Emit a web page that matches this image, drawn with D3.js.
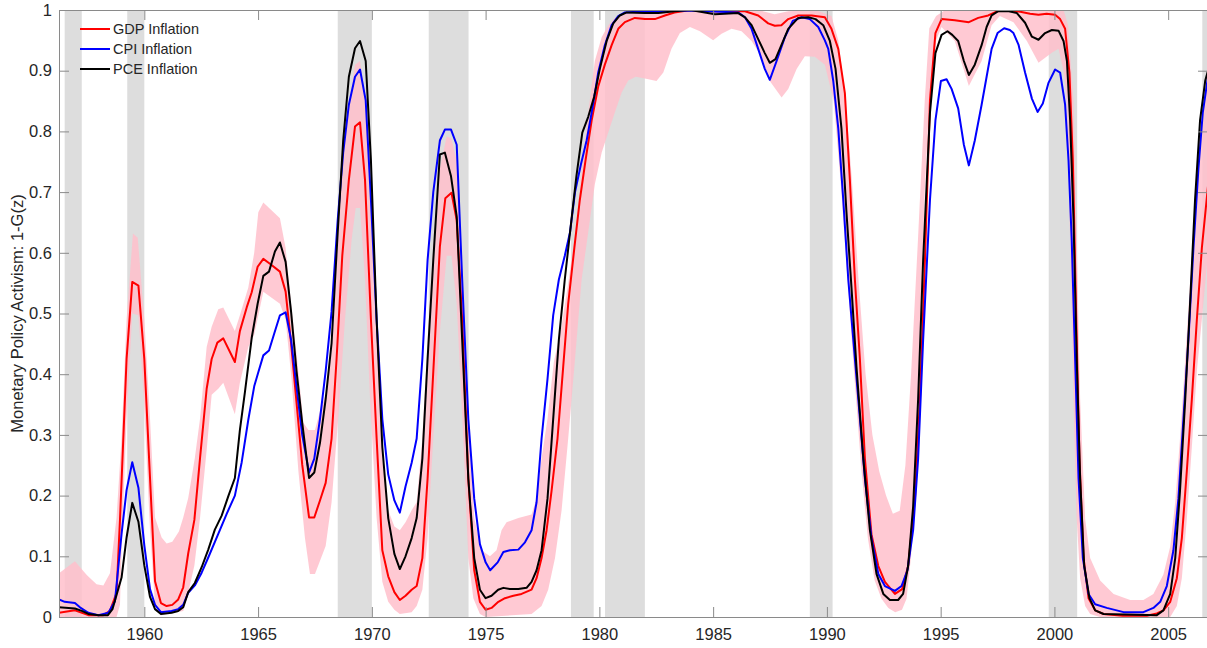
<!DOCTYPE html>
<html><head><meta charset="utf-8">
<script src="https://cdn.jsdelivr.net/npm/d3@7"></script>
<style>
html,body{margin:0;padding:0;background:#fff;}
svg{display:block;font-family:"Liberation Sans",Arial,Helvetica,sans-serif;}
</style></head>
<body><svg id="chart" width="1207" height="648"></svg>
<script>
// ---------- data ----------
const xTicks = [1960,1965,1970,1975,1980,1985,1990,1995,2000,2005];
const yTicks = [0,0.1,0.2,0.3,0.4,0.5,0.6,0.7,0.8,0.9,1];
const yTickLabels = ["0","0.1","0.2","0.3","0.4","0.5","0.6","0.7","0.8","0.9","1"];
const seriesNames = ["GDP Inflation","CPI Inflation","PCE Inflation"];
const seriesColors = ["#ff0000","#0000ff","#000000"];

const recessions = [[1956.5,1957.25],[1959.25,1960.0],[1968.5,1970.0],[1972.5,1974.25],
  [1978.75,1979.75],[1980.25,1982.0],[1989.25,1990.25],[1999.75,2001.0],[2006.5,2006.75]];

const gdp = [[1956.25,0.007],[1956.95,0.011],[1957.54,0.003],[1958.2,0.003],[1958.49,0.01],[1958.78,0.04],
[1958.93,0.16],[1959.22,0.425],[1959.47,0.552],[1959.74,0.546],[1960.0,0.425],[1960.25,0.229],[1960.47,0.059],
[1960.73,0.023],[1960.98,0.018],[1961.23,0.02],[1961.49,0.029],[1961.71,0.049],[1961.93,0.105],[1962.2,0.16],
[1962.45,0.262],[1962.74,0.376],[1962.96,0.425],[1963.21,0.452],[1963.47,0.459],[1963.98,0.42],[1964.2,0.471],
[1964.5,0.51],[1964.72,0.535],[1964.98,0.577],[1965.23,0.59],[1965.52,0.582],[1965.96,0.569],[1966.21,0.536],
[1966.45,0.451],[1966.69,0.353],[1966.94,0.251],[1967.24,0.164],[1967.47,0.164],[1967.72,0.192],[1967.97,0.221],
[1968.23,0.294],[1968.45,0.425],[1968.7,0.595],[1968.99,0.72],[1969.26,0.808],[1969.48,0.815],[1969.7,0.72],
[1969.96,0.49],[1970.21,0.294],[1970.46,0.11],[1970.72,0.067],[1970.99,0.041],[1971.23,0.028],[1971.48,0.035],
[1971.75,0.045],[1971.97,0.051],[1972.22,0.097],[1972.45,0.228],[1972.73,0.425],[1972.99,0.61],[1973.23,0.69],
[1973.5,0.699],[1973.73,0.654],[1973.97,0.49],[1974.24,0.228],[1974.5,0.077],[1974.75,0.025],[1975.0,0.012],
[1975.26,0.015],[1975.56,0.025],[1975.85,0.031],[1976.22,0.035],[1976.58,0.038],[1977.02,0.045],[1977.24,0.064],
[1977.46,0.097],[1977.68,0.143],[1977.9,0.208],[1978.16,0.294],[1978.41,0.412],[1978.63,0.516],[1978.9,0.608],
[1979.14,0.687],[1979.39,0.752],[1979.66,0.818],[1979.95,0.874],[1980.24,0.91],[1980.54,0.942],[1980.83,0.969],
[1981.12,0.98],[1981.56,0.987],[1982.0,0.985],[1982.44,0.985],[1982.88,0.991],[1983.3,0.996],[1984.0,1.0],
[1985.0,0.998],[1986.4,0.998],[1986.98,0.991],[1987.42,0.978],[1987.71,0.974],[1988.0,0.975],[1988.3,0.985],
[1988.74,0.991],[1989.33,0.991],[1989.91,0.988],[1990.2,0.969],[1990.5,0.936],[1990.79,0.863],[1991.01,0.72],
[1991.23,0.556],[1991.45,0.425],[1991.67,0.261],[1991.96,0.136],[1992.26,0.084],[1992.55,0.058],[1992.99,0.038],
[1993.31,0.046],[1993.57,0.084],[1993.87,0.195],[1994.09,0.359],[1994.31,0.588],[1994.53,0.851],[1994.77,0.962],
[1995.04,0.985],[1995.62,0.983],[1996.24,0.98],[1996.65,0.987],[1997.09,0.991],[1997.5,0.998],[1998.0,1.0],
[1998.5,0.997],[1998.93,0.994],[1999.3,0.992],[1999.66,0.994],[2000.03,0.992],[2000.25,0.985],[2000.47,0.969],
[2000.66,0.897],[2000.81,0.752],[2000.96,0.49],[2001.1,0.261],[2001.28,0.097],[2001.5,0.031],[2001.79,0.011],
[2002.16,0.005],[2003.0,0.002],[2004.06,0.002],[2004.5,0.006],[2004.79,0.011],[2005.09,0.025],[2005.38,0.064],
[2005.6,0.13],[2005.82,0.241],[2006.04,0.359],[2006.26,0.49],[2006.48,0.608],[2006.75,0.71]];

const cpi = [[1956.25,0.029],[1956.5,0.025],[1956.95,0.023],[1957.17,0.016],[1957.54,0.007],[1957.98,0.003],
[1958.42,0.007],[1958.71,0.026],[1959.0,0.137],[1959.22,0.209],[1959.47,0.255],[1959.74,0.213],[1960.0,0.118],
[1960.25,0.046],[1960.47,0.02],[1960.73,0.008],[1961.2,0.01],[1961.49,0.013],[1961.71,0.02],[1961.93,0.04],
[1962.22,0.052],[1962.52,0.073],[1962.81,0.098],[1963.25,0.137],[1963.62,0.17],[1963.98,0.2],[1964.28,0.255],
[1964.57,0.325],[1964.83,0.38],[1965.0,0.402],[1965.23,0.431],[1965.48,0.439],[1965.71,0.467],[1965.96,0.497],
[1966.21,0.502],[1966.45,0.457],[1966.69,0.379],[1966.94,0.3],[1967.24,0.238],[1967.47,0.261],[1967.72,0.326],
[1967.97,0.405],[1968.23,0.503],[1968.5,0.654],[1968.74,0.765],[1968.99,0.844],[1969.26,0.89],[1969.48,0.902],
[1969.73,0.851],[1969.96,0.687],[1970.21,0.49],[1970.46,0.326],[1970.72,0.235],[1970.99,0.192],[1971.23,0.172],
[1971.48,0.215],[1971.75,0.254],[1971.97,0.294],[1972.22,0.425],[1972.45,0.588],[1972.7,0.7],[1972.99,0.785],
[1973.21,0.803],[1973.48,0.803],[1973.73,0.778],[1973.97,0.556],[1974.24,0.326],[1974.5,0.195],[1974.75,0.12],
[1975.0,0.09],[1975.2,0.077],[1975.53,0.09],[1975.78,0.107],[1976.07,0.11],[1976.44,0.111],[1976.73,0.123],
[1977.02,0.143],[1977.24,0.189],[1977.46,0.294],[1977.72,0.392],[1977.97,0.497],[1978.22,0.556],[1978.48,0.595],
[1978.71,0.634],[1978.93,0.7],[1979.19,0.746],[1979.44,0.785],[1979.69,0.837],[1979.95,0.897],[1980.24,0.942],
[1980.54,0.975],[1980.83,0.99],[1981.12,0.996],[1982.0,0.998],[1984.0,0.999],[1986.1,0.996],[1986.4,0.988],
[1986.69,0.969],[1986.98,0.936],[1987.27,0.903],[1987.49,0.885],[1987.79,0.916],[1988.15,0.955],[1988.5,0.982],
[1988.89,0.988],[1989.25,0.985],[1989.62,0.972],[1989.91,0.95],[1990.06,0.936],[1990.28,0.883],[1990.5,0.805],
[1990.72,0.687],[1990.94,0.556],[1991.16,0.457],[1991.38,0.359],[1991.67,0.228],[1991.96,0.13],[1992.26,0.071],
[1992.55,0.051],[1992.99,0.043],[1993.28,0.051],[1993.54,0.077],[1993.79,0.143],[1994.01,0.261],[1994.23,0.457],
[1994.53,0.687],[1994.77,0.818],[1995.01,0.883],[1995.26,0.886],[1995.48,0.87],[1995.77,0.838],[1996.02,0.778],
[1996.24,0.744],[1996.5,0.785],[1996.8,0.844],[1997.02,0.89],[1997.24,0.936],[1997.5,0.962],[1997.79,0.97],
[1998.04,0.967],[1998.2,0.962],[1998.42,0.943],[1998.71,0.897],[1999.01,0.854],[1999.26,0.832],[1999.49,0.846],
[1999.74,0.88],[2000.03,0.902],[2000.25,0.897],[2000.47,0.844],[2000.62,0.752],[2000.76,0.621],[2000.91,0.425],
[2001.06,0.228],[2001.25,0.097],[2001.5,0.038],[2001.79,0.021],[2002.3,0.015],[2003.04,0.008],[2003.91,0.008],
[2004.35,0.015],[2004.65,0.025],[2004.94,0.051],[2005.23,0.11],[2005.45,0.195],[2005.67,0.326],[2005.89,0.457],
[2006.11,0.608],[2006.33,0.739],[2006.52,0.831],[2006.75,0.89]];

const pce = [[1956.25,0.016],[1956.95,0.014],[1957.25,0.01],[1957.54,0.005],[1958.0,0.003],[1958.4,0.003],
[1958.6,0.013],[1959.0,0.065],[1959.22,0.131],[1959.47,0.188],[1959.74,0.157],[1960.0,0.085],[1960.25,0.033],
[1960.47,0.013],[1960.73,0.005],[1961.2,0.007],[1961.49,0.01],[1961.71,0.016],[1961.93,0.041],[1962.22,0.056],
[1962.52,0.082],[1962.81,0.111],[1963.1,0.144],[1963.4,0.167],[1963.7,0.2],[1963.98,0.229],[1964.2,0.308],
[1964.42,0.37],[1964.72,0.46],[1964.98,0.516],[1965.23,0.562],[1965.48,0.569],[1965.74,0.602],[1965.96,0.617],
[1966.21,0.585],[1966.45,0.503],[1966.69,0.405],[1966.94,0.32],[1967.24,0.229],[1967.47,0.238],[1967.72,0.287],
[1967.97,0.359],[1968.23,0.451],[1968.5,0.634],[1968.74,0.785],[1968.99,0.89],[1969.26,0.937],[1969.48,0.949],
[1969.73,0.916],[1969.96,0.752],[1970.21,0.49],[1970.46,0.28],[1970.72,0.163],[1970.99,0.104],[1971.23,0.079],
[1971.48,0.1],[1971.75,0.13],[1971.97,0.163],[1972.22,0.261],[1972.45,0.425],[1972.7,0.588],[1972.99,0.762],
[1973.21,0.765],[1973.48,0.726],[1973.73,0.66],[1973.97,0.457],[1974.24,0.228],[1974.5,0.097],[1974.75,0.045],
[1975.0,0.031],[1975.26,0.035],[1975.55,0.045],[1975.78,0.048],[1976.07,0.046],[1976.44,0.046],[1976.8,0.048],
[1977.02,0.058],[1977.24,0.077],[1977.46,0.11],[1977.72,0.195],[1977.97,0.326],[1978.22,0.457],[1978.48,0.556],
[1978.75,0.647],[1978.99,0.726],[1979.25,0.798],[1979.51,0.824],[1979.77,0.857],[1980.02,0.903],[1980.32,0.949],
[1980.61,0.978],[1980.9,0.991],[1981.2,0.996],[1982.0,0.995],[1982.6,0.995],[1983.3,0.998],[1984.0,1.0],
[1985.08,0.993],[1986.1,0.995],[1986.4,0.988],[1986.69,0.975],[1986.98,0.952],[1987.27,0.929],[1987.49,0.913],
[1987.74,0.919],[1988.0,0.942],[1988.3,0.969],[1988.74,0.987],[1989.18,0.988],[1989.5,0.985],[1989.84,0.975],
[1990.13,0.949],[1990.38,0.903],[1990.64,0.805],[1990.86,0.667],[1991.08,0.543],[1991.3,0.412],[1991.6,0.261],
[1991.89,0.143],[1992.18,0.071],[1992.48,0.038],[1992.77,0.028],[1993.13,0.028],[1993.35,0.038],[1993.57,0.084],
[1993.79,0.182],[1994.01,0.359],[1994.23,0.588],[1994.53,0.831],[1994.77,0.929],[1995.04,0.959],[1995.3,0.965],
[1995.51,0.959],[1995.77,0.949],[1996.02,0.916],[1996.24,0.893],[1996.5,0.91],[1996.8,0.942],[1997.02,0.972],
[1997.24,0.991],[1997.53,0.998],[1998.0,0.998],[1998.35,0.995],[1998.71,0.979],[1999.01,0.956],[1999.3,0.951],
[1999.59,0.962],[1999.89,0.967],[2000.18,0.966],[2000.4,0.949],[2000.55,0.916],[2000.69,0.818],[2000.84,0.654],
[2000.98,0.425],[2001.13,0.228],[2001.31,0.084],[2001.54,0.031],[2001.79,0.011],[2002.16,0.005],[2004.5,0.003],
[2004.79,0.011],[2005.09,0.038],[2005.31,0.097],[2005.52,0.208],[2005.75,0.359],[2005.97,0.523],[2006.18,0.687],
[2006.4,0.818],[2006.63,0.884],[2006.75,0.9]];

const bandHi = [[1956.25,0.072],[1956.95,0.092],[1957.47,0.069],[1957.9,0.054],[1958.2,0.052],[1958.49,0.072],
[1958.78,0.164],[1959.0,0.295],[1959.22,0.49],[1959.5,0.632],[1959.71,0.625],[1960.0,0.49],[1960.25,0.327],
[1960.47,0.164],[1960.76,0.131],[1960.98,0.121],[1961.23,0.124],[1961.52,0.141],[1961.71,0.164],[1961.93,0.196],
[1962.22,0.262],[1962.45,0.327],[1962.74,0.445],[1962.96,0.478],[1963.25,0.507],[1963.47,0.51],[1963.98,0.471],
[1964.2,0.497],[1964.57,0.543],[1964.83,0.6],[1965.01,0.667],[1965.23,0.683],[1965.96,0.657],[1966.21,0.608],
[1966.45,0.516],[1966.77,0.405],[1966.99,0.32],[1967.21,0.308],[1967.5,0.308],[1967.72,0.339],[1967.97,0.366],
[1968.23,0.438],[1968.45,0.588],[1968.7,0.739],[1968.99,0.844],[1969.26,0.91],[1969.48,0.916],[1969.73,0.851],
[1969.96,0.654],[1970.21,0.48],[1970.46,0.261],[1970.72,0.176],[1970.99,0.149],[1971.23,0.143],[1971.48,0.156],
[1971.75,0.176],[1971.97,0.189],[1972.22,0.294],[1972.45,0.457],[1972.7,0.608],[1972.99,0.739],[1973.29,0.792],
[1973.5,0.788],[1973.73,0.752],[1973.97,0.556],[1974.24,0.326],[1974.5,0.163],[1974.82,0.11],[1975.19,0.1],
[1975.48,0.11],[1975.7,0.143],[1975.92,0.156],[1976.44,0.163],[1977.02,0.169],[1977.24,0.195],[1977.46,0.261],
[1977.72,0.326],[1978.0,0.42],[1978.34,0.48],[1978.63,0.55],[1978.93,0.63],[1979.22,0.733],[1979.51,0.831],
[1979.8,0.916],[1980.1,0.955],[1980.39,0.975],[1980.68,0.987],[1981.1,0.995],[1982.0,0.997],[1983.0,1.0],
[1987.0,1.0],[1987.7,0.993],[1988.3,0.998],[1989.5,1.0],[1990.2,0.99],[1990.5,0.95],[1990.8,0.86],[1991.1,0.72],
[1991.4,0.55],[1991.7,0.4],[1992.0,0.3],[1992.3,0.24],[1992.6,0.2],[1992.9,0.17],[1993.2,0.175],[1993.45,0.25],
[1993.7,0.4],[1994.0,0.62],[1994.3,0.85],[1994.5,0.97],[1994.8,0.99],[1995.2,1.0],[2000.4,1.0],[2000.6,0.975],
[2000.84,0.849],[2000.98,0.621],[2001.13,0.359],[2001.35,0.162],[2001.57,0.097],[2002.01,0.06],[2002.6,0.038],
[2003.33,0.028],[2003.91,0.028],[2004.35,0.038],[2004.79,0.07],[2005.09,0.116],[2005.31,0.189],[2005.52,0.294],
[2005.75,0.425],[2005.97,0.556],[2006.18,0.687],[2006.4,0.798],[2006.75,0.9]];

const bandLo = [[1956.25,0.0],[1958.78,0.0],[1958.93,0.02],[1959.0,0.111],[1959.22,0.327],[1959.47,0.5],
[1959.74,0.497],[1959.98,0.36],[1960.25,0.144],[1960.47,0.02],[1960.73,0.003],[1961.71,0.01],[1961.93,0.04],
[1962.2,0.085],[1962.45,0.164],[1962.74,0.275],[1962.96,0.366],[1963.25,0.376],[1963.47,0.386],[1963.98,0.334],
[1964.2,0.386],[1964.57,0.445],[1964.83,0.465],[1965.23,0.536],[1965.96,0.516],[1966.21,0.49],[1966.47,0.392],
[1966.77,0.241],[1967.06,0.13],[1967.28,0.071],[1967.5,0.071],[1967.97,0.117],[1968.23,0.189],[1968.52,0.326],
[1968.82,0.49],[1969.11,0.621],[1969.29,0.674],[1969.48,0.674],[1969.7,0.556],[1969.92,0.359],[1970.21,0.163],
[1970.46,0.058],[1970.72,0.025],[1970.99,0.012],[1971.23,0.005],[1971.75,0.008],[1971.97,0.018],[1972.22,0.045],
[1972.45,0.13],[1972.7,0.294],[1972.99,0.47],[1973.29,0.595],[1973.5,0.595],[1973.73,0.516],[1974.02,0.294],
[1974.24,0.097],[1974.46,0.031],[1974.75,0.005],[1975.0,0.0],[1977.02,0.005],[1977.46,0.018],[1977.75,0.045],
[1978.05,0.097],[1978.34,0.176],[1978.63,0.294],[1978.93,0.425],[1979.22,0.556],[1979.51,0.634],[1979.8,0.713],
[1980.1,0.765],[1980.39,0.798],[1980.68,0.831],[1980.98,0.864],[1981.27,0.884],[1981.6,0.89],[1982.0,0.887],
[1982.51,0.883],[1982.81,0.897],[1983.17,0.936],[1983.54,0.962],[1983.98,0.972],[1984.42,0.965],[1985.0,0.95],
[1985.37,0.961],[1985.81,0.969],[1986.25,0.965],[1986.69,0.949],[1987.13,0.923],[1987.49,0.883],[1988.01,0.856],
[1988.3,0.87],[1988.67,0.903],[1989.03,0.924],[1989.47,0.923],[1989.91,0.91],[1990.3,0.85],[1990.6,0.72],
[1990.9,0.56],[1991.2,0.4],[1991.5,0.25],[1991.8,0.13],[1992.1,0.06],[1992.4,0.03],[1992.7,0.015],[1993.0,0.008],
[1993.3,0.012],[1993.5,0.03],[1993.7,0.1],[1993.9,0.25],[1994.1,0.45],[1994.3,0.7],[1994.5,0.85],[1994.8,0.95],
[1995.04,0.972],[1995.62,0.949],[1996.24,0.875],[1996.8,0.916],[1997.24,0.975],[1997.6,0.99],[1998.2,0.98],
[1998.79,0.949],[1999.3,0.913],[1999.9,0.93],[2000.18,0.936],[2000.4,0.9],[2000.55,0.851],[2000.69,0.621],
[2000.84,0.359],[2000.98,0.162],[2001.13,0.064],[2001.35,0.018],[2001.57,0.005],[2002.0,0.0],[2005.09,0.0],
[2005.38,0.018],[2005.6,0.064],[2005.82,0.162],[2006.04,0.28],[2006.26,0.405],[2006.48,0.49],[2006.75,0.6]];

// ---------- layout ----------
const svg = d3.select("#chart");
const L = 59, R = 1208, T = 10, B = 617;
const x = d3.scaleLinear().domain([1956.25, 2006.75]).range([L, R]);
const y = d3.scaleLinear().domain([0, 1]).range([B, T]);
const axisColor = "#8a8a8a", textColor = "#262626";

svg.append("defs").append("clipPath").attr("id","clip")
  .append("rect").attr("x",L).attr("y",T).attr("width",R-L).attr("height",B-T);
const plot = svg.append("g").attr("clip-path","url(#clip)");

// recession shading
plot.selectAll("rect.rec").data(recessions).enter().append("rect")
  .attr("class","rec")
  .attr("x", d => x(d[0])).attr("width", d => x(d[1]) - x(d[0]))
  .attr("y", T).attr("height", B - T)
  .attr("fill", "#dddddd");

// confidence band
const bandPts = bandHi.concat(bandLo.slice().reverse());
plot.append("path")
  .attr("d", d3.line().x(d => x(d[0])).y(d => y(d[1]))(bandPts) + "Z")
  .attr("fill", "#ffc0cb").attr("fill-opacity", 0.85).attr("stroke", "none");

// lines
const line = d3.line().x(d => x(d[0])).y(d => y(d[1]));
[gdp, cpi, pce].forEach((s, i) => {
  plot.append("path").attr("d", line(s))
    .attr("fill","none").attr("stroke", seriesColors[i])
    .attr("stroke-width", 2).attr("stroke-linejoin","round");
});

// axes
const fmtY = d => yTickLabels[yTicks.indexOf(d)];
const gB = svg.append("g").attr("transform",`translate(0,${B})`)
  .call(d3.axisBottom(x).tickValues(xTicks).tickFormat(d3.format("d")).tickSizeInner(-10).tickSizeOuter(0).tickPadding(8));
const gT = svg.append("g").attr("transform",`translate(0,${T})`)
  .call(d3.axisTop(x).tickValues(xTicks).tickFormat("").tickSizeInner(-10).tickSizeOuter(0));
const gL = svg.append("g").attr("transform",`translate(${L},0)`)
  .call(d3.axisLeft(y).tickValues(yTicks).tickFormat(fmtY).tickSizeInner(-10).tickSizeOuter(0).tickPadding(7));
const gR = svg.append("g").attr("transform",`translate(${R},0)`)
  .call(d3.axisRight(y).tickValues(yTicks).tickFormat("").tickSizeInner(-10).tickSizeOuter(0));
[gB,gT,gL,gR].forEach(g => {
  g.select(".domain").attr("stroke", axisColor).attr("stroke-width",1);
  g.selectAll(".tick line").attr("stroke", axisColor);
  g.selectAll(".tick text").attr("fill", textColor).style("font-size","16.5px")
    .style("font-family",'"Liberation Sans",Arial,sans-serif');
});
gB.selectAll(".tick text").attr("dy","0.9em");

// y label
svg.append("text")
  .attr("transform", `translate(23,${(T+B)/2}) rotate(-90)`)
  .attr("text-anchor","middle")
  .attr("fill", textColor)
  .style("font-size","16.5px")
  .text("Monetary Policy Activism: 1-G(z)");

// legend
const lg = svg.append("g");
seriesNames.forEach((n, i) => {
  const yy = 29 + i * 20;
  lg.append("line").attr("x1",80).attr("x2",110).attr("y1",yy).attr("y2",yy)
    .attr("stroke", seriesColors[i]).attr("stroke-width",2);
  lg.append("text").attr("x",113).attr("y",yy).attr("dy","0.35em")
    .attr("fill", textColor).style("font-size","14.5px").text(n);
});
</script>
</body></html>
